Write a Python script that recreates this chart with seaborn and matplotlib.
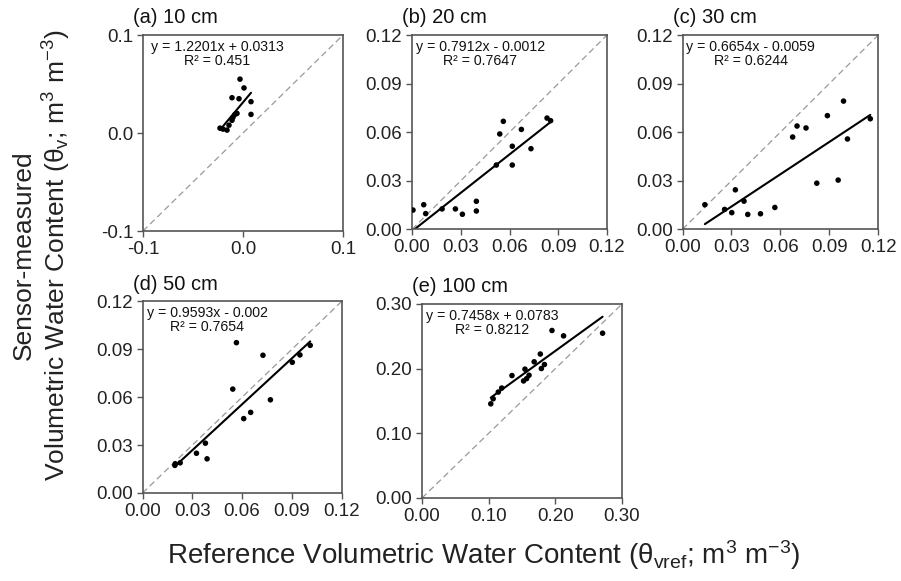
import numpy as np
import pandas as pd
import matplotlib
matplotlib.use('Agg')
import matplotlib.pyplot as plt
import seaborn as sns

# Reference vs sensor-measured volumetric water content, by depth
ref_10 = [-0.003, 0.001, -0.011, -0.004, 0.008, -0.008, 0.008, -0.023, -0.020, -0.016, -0.014, -0.011, -0.010, -0.006]
sen_10 = [0.055, 0.046, 0.036, 0.035, 0.032, 0.019, 0.019, 0.005, 0.004, 0.003, 0.008, 0.013, 0.016, 0.020]

ref_20 = [0.0006, 0.0072, 0.0084, 0.0185, 0.0267, 0.031, 0.0396, 0.0396, 0.0519, 0.054, 0.0562, 0.0617, 0.0617, 0.0673, 0.0732, 0.0831, 0.0853]
sen_20 = [0.0119, 0.0152, 0.0097, 0.0126, 0.0126, 0.0093, 0.0173, 0.0113, 0.0397, 0.0589, 0.0667, 0.0513, 0.0397, 0.0617, 0.0498, 0.0687, 0.0671]

ref_30 = [0.0137, 0.0258, 0.0302, 0.0324, 0.0377, 0.040, 0.0478, 0.0566, 0.0675, 0.0702, 0.0757, 0.0823, 0.0888, 0.0954, 0.0987, 0.1011, 0.1151]
sen_30 = [0.0152, 0.0123, 0.0103, 0.0244, 0.0174, 0.0092, 0.0096, 0.0135, 0.057, 0.0638, 0.0626, 0.0285, 0.0702, 0.0304, 0.0792, 0.0558, 0.0683]

ref_50 = [0.0195, 0.0197, 0.0227, 0.0325, 0.0379, 0.0389, 0.0544, 0.0566, 0.061, 0.0652, 0.0726, 0.0771, 0.0903, 0.0949, 0.1011]
sen_50 = [0.0173, 0.0183, 0.0189, 0.0249, 0.0312, 0.0214, 0.0651, 0.0942, 0.0466, 0.0505, 0.0863, 0.0584, 0.0819, 0.0865, 0.0925]

ref_100 = [0.1031, 0.1067, 0.1144, 0.1195, 0.1349, 0.1523, 0.1544, 0.1569, 0.1605, 0.1682, 0.1774, 0.179, 0.1836, 0.1949, 0.2123, 0.2708]
sen_100 = [0.1456, 0.1534, 0.1638, 0.170, 0.1893, 0.181, 0.1992, 0.1846, 0.1898, 0.2106, 0.2226, 0.2002, 0.2064, 0.259, 0.2507, 0.2548]

titles = ['(a) 10 cm', '(b) 20 cm', '(c) 30 cm', '(d) 50 cm', '(e) 100 cm']
slopes = [1.2201, 0.7912, 0.6654, 0.9593, 0.7458]
intercepts = [0.0313, -0.0012, -0.0059, -0.002, 0.0783]
equations = ['y = 1.2201x + 0.0313\nR\u00b2 = 0.451',
             'y = 0.7912x - 0.0012\nR\u00b2 = 0.7647',
             'y = 0.6654x - 0.0059\nR\u00b2 = 0.6244',
             'y = 0.9593x - 0.002\nR\u00b2 = 0.7654',
             'y = 0.7458x + 0.0783\nR\u00b2 = 0.8212']
ticks_10 = [-0.1, 0.0, 0.1]
ticks_mid = [0.0, 0.03, 0.06, 0.09, 0.12]
ticks_100 = [0.0, 0.1, 0.2, 0.3]

refs = [ref_10, ref_20, ref_30, ref_50, ref_100]
sens = [sen_10, sen_20, sen_30, sen_50, sen_100]
tick_sets = [ticks_10, ticks_mid, ticks_mid, ticks_mid, ticks_100]
fmts = ['{:.1f}', '{:.2f}', '{:.2f}', '{:.2f}', '{:.2f}']

# axes boxes in figure fractions (left, bottom, width, height)
boxes = [
    [0.1587, 0.6024, 0.2220, 0.3373],
    [0.4573, 0.6053, 0.2164, 0.3344],
    [0.7575, 0.6053, 0.2173, 0.3344],
    [0.1582, 0.1515, 0.2209, 0.3296],
    [0.4684, 0.1429, 0.2220, 0.3339],
]
eq_x = [0.04, 0.02, 0.02, 0.02, 0.02]

sns.set_style('ticks')
plt.rcParams['font.family'] = ['Liberation Sans', 'DejaVu Sans']
plt.rcParams['mathtext.fontset'] = 'custom'
plt.rcParams['mathtext.rm'] = 'Liberation Sans'
plt.rcParams['mathtext.it'] = 'Liberation Sans'
plt.rcParams['axes.unicode_minus'] = False
plt.rcParams['axes.edgecolor'] = '#555555'
plt.rcParams['xtick.color'] = '#555555'
plt.rcParams['ytick.color'] = '#555555'
plt.rcParams['xtick.labelcolor'] = '#222222'
plt.rcParams['ytick.labelcolor'] = '#222222'

fig = plt.figure(figsize=(9.01, 5.81), dpi=100)

for i in range(5):
    ax = fig.add_axes(boxes[i])
    df = pd.DataFrame({'ref': refs[i], 'sensor': sens[i]})
    lo, hi = tick_sets[i][0], tick_sets[i][-1]

    # 1:1 line
    ax.plot([lo, hi], [lo, hi], color='#999999', linestyle=(0, (5, 3)), linewidth=0.9, zorder=1)

    sns.scatterplot(data=df, x='ref', y='sensor', ax=ax, color='black', s=16,
                    edgecolor='none', zorder=3)

    # regression line from the reported fit
    xs = np.array([df['ref'].min(), df['ref'].max()])
    ax.plot(xs, slopes[i] * xs + intercepts[i], color='black', linewidth=1.5, zorder=2)

    ax.set_xlim(lo, hi)
    ax.set_ylim(lo, hi)
    ax.set_xticks(tick_sets[i])
    ax.set_yticks(tick_sets[i])
    ax.set_xticklabels([fmts[i].format(t) for t in tick_sets[i]])
    ax.set_yticklabels([fmts[i].format(t) for t in tick_sets[i]])
    ax.tick_params(labelsize=13.5, length=4, width=1, direction='out', pad=3)
    for sp in ax.spines.values():
        sp.set_linewidth(1.2)
    ax.set_xlabel('')
    ax.set_ylabel('')

    ax.text(eq_x[i], 0.975, equations[i], transform=ax.transAxes, ha='left', va='top',
            multialignment='center', fontsize=10.2, linespacing=1.0, color='#111111')
    ax.text(-0.05, 1.04, titles[i], transform=ax.transAxes, ha='left', va='bottom',
            fontsize=14.5, color='#111111')

fig.text(0.537, 0.045,
         r'Reference Volumetric Water Content ($\mathregular{\theta_{vref}}$; m$\mathregular{^{3}}$ m$\mathregular{^{-3}}$)',
         ha='center', va='center', fontsize=20, color='#222222')
fig.text(0.047, 0.56,
         'Sensor-measured\n' + r'Volumetric Water Content ($\mathregular{\theta_{v}}$; m$\mathregular{^{3}}$ m$\mathregular{^{-3}}$)',
         ha='center', va='center', rotation=90, fontsize=19, linespacing=1.2, color='#222222')

fig.savefig('out.png', dpi=100)
